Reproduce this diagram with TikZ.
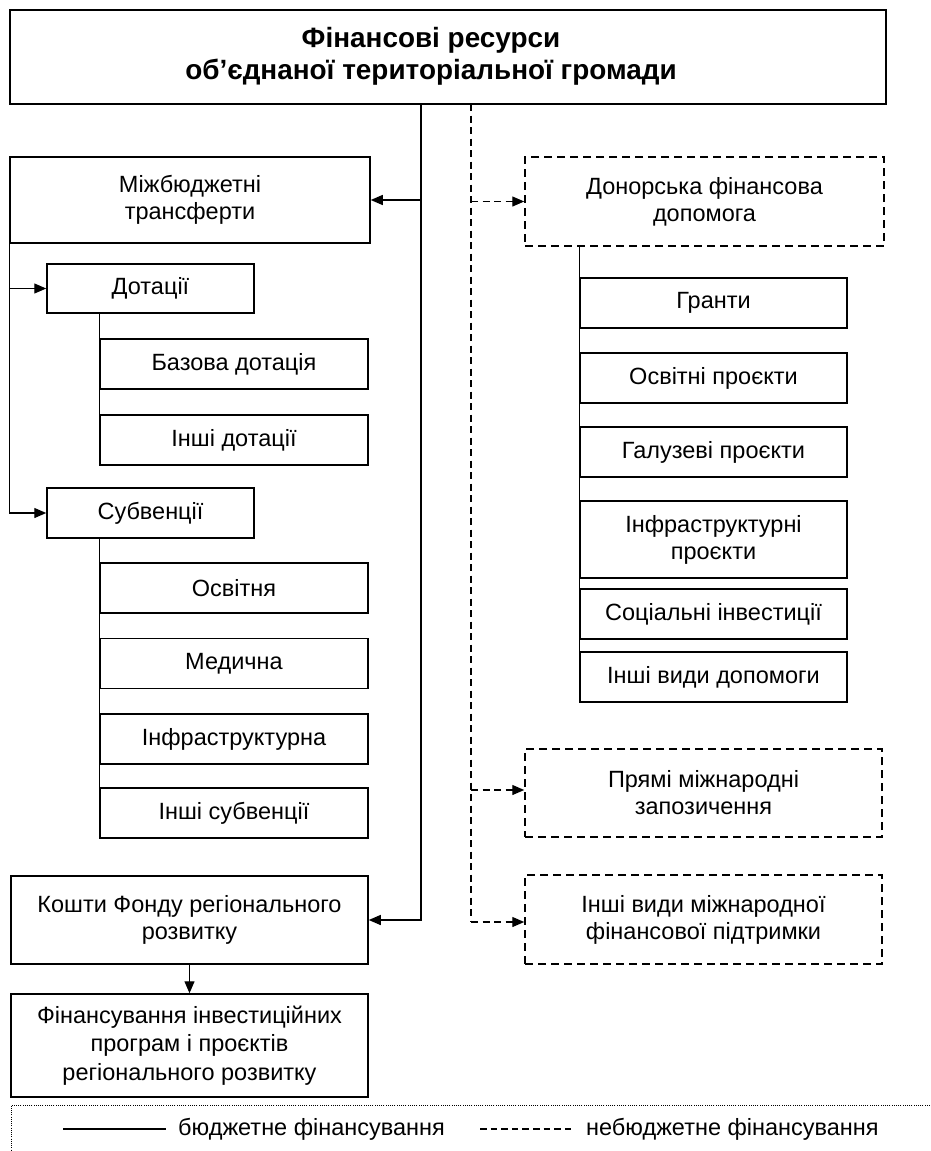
\documentclass[tikz,border=0pt]{standalone}
\usepackage{fontspec}
\setmainfont{Liberation Sans}
\usetikzlibrary{arrows.meta}
\begin{document}
\begin{tikzpicture}[x=1pt,y=-1pt,
  box/.style={draw=black, line width=1.5pt, rectangle, inner sep=0pt, align=center,
    font=\fontsize{23.5}{27}\selectfont},
  dbox/.style={box, dash pattern=on 8pt off 5pt},
  conn/.style={draw=black, line width=1.3pt},
  dconn/.style={conn, dash pattern=on 7pt off 4.5pt},
  tip/.style={-{Triangle[length=12pt,width=10pt]}},
  legline/.style={draw=black, line width=1.3pt},
  legtext/.style={inner sep=0pt, anchor=west, font=\fontsize{23.5}{27}\selectfont}
]
\useasboundingbox (0,0) rectangle (930,1151);
\fill[white] (0,0) rectangle (930,1151);

% title
\node[box, minimum width=876pt, minimum height=94pt] (top) at (448,57) {};
\node[inner sep=0pt, align=center, font=\fontsize{27.9}{32}\selectfont\bfseries]
  (toptext) at (431,56) {Фінансові ресурси\\об’єднаної територіальної громади};

% left column
\node[box, minimum width=360pt, minimum height=86pt] (mb) at (190,200) {Міжбюджетні\\трансферти};
\node[box, minimum width=207pt, minimum height=49pt] (dot) at (150.5,288.5) {Дотації};
\node[box, minimum width=268pt, minimum height=50pt] (baz) at (234,364) {Базова дотація};
\node[box, minimum width=268pt, minimum height=50pt] (ind) at (234,440) {Інші дотації};
\node[box, minimum width=207pt, minimum height=50pt] (sub) at (150.5,513) {Субвенції};
\node[box, minimum width=268pt, minimum height=50pt] (osv) at (234,588) {Освітня};
\node[box, minimum width=268pt, minimum height=50pt] (med) at (234,663.5) {Медична};
\node[box, minimum width=268pt, minimum height=50pt] (inf) at (234,739) {Інфраструктурна};
\node[box, minimum width=268pt, minimum height=50pt] (ins) at (234,813) {Інші субвенції};
\node[box, minimum width=357pt, minimum height=88pt] (kf) at (189.5,920) {Кошти Фонду регіонального\\розвитку};
\node[box, minimum width=357pt, minimum height=103pt, font=\fontsize{23.5}{28.5}\selectfont] (fin) at (189.5,1045.5)
  {Фінансування інвестиційних\\програм і проєктів\\регіонального розвитку};

% right column
\node[dbox, minimum width=359pt, minimum height=89pt] (don) at (704.5,201.5) {Донорська фінансова\\допомога};
\node[box, minimum width=267pt, minimum height=50pt] (gr) at (713.5,303) {Гранти};
\node[box, minimum width=267pt, minimum height=50pt] (op) at (713.5,378) {Освітні проєкти};
\node[box, minimum width=267pt, minimum height=50pt] (gp) at (713.5,452) {Галузеві проєкти};
\node[box, minimum width=267pt, minimum height=77pt] (ip) at (713.5,539.5) {Інфраструктурні\\проєкти};
\node[box, minimum width=267pt, minimum height=50pt] (si) at (713.5,614) {Соціальні інвестиції};
\node[box, minimum width=267pt, minimum height=50pt] (iv) at (713.5,677) {Інші види допомоги};
\node[dbox, minimum width=357pt, minimum height=88pt] (pm) at (703.5,793) {Прямі міжнародні\\запозичення};
\node[dbox, minimum width=357pt, minimum height=89pt] (imf) at (703.5,919.5) {Інші види міжнародної\\фінансової підтримки};

% budget connectors
\coordinate (s0) at (421,104);
\coordinate (s1) at (421,200);
\draw[conn, tip] (s0) |- (kf.east);
\draw[conn, tip] (s1) -- (mb.east);
\draw[conn, tip] (mb.south west) |- (sub.west);
\draw[conn, tip] (mb.south west |- dot.west) -- (dot.west);
\draw[conn] (ind.north west |- dot.south) -- (ind.north west);
\draw[conn] (ins.north west |- sub.south) -- (ins.north west);
\draw[conn, tip] (kf.south) -- (fin.north);

% non-budget connectors
\coordinate (d0) at (471,104);
\coordinate (d1) at (471,922);
\coordinate (d2) at (471,201.5);
\coordinate (d3) at (471,790);
\draw[dconn] (d0) -- (d1);
\draw[dconn, tip] (d1) -- (imf.west |- d1);
\draw[dconn, tip] (d2) -- (don.west);
\draw[dconn, tip] (d3) -- (pm.west |- d3);
\draw[conn] (iv.north west |- don.south) -- (iv.north west);

% legend
\draw[line width=0.8pt, dash pattern=on 1pt off 1.2pt] (930,1105) -- (11,1105) -- (11,1151);
\coordinate (la) at (63,1129);
\coordinate (lb) at (166,1129);
\draw[legline] (la) -- (lb);
\node[legtext] (lt1) at (178,1129) {бюджетне фінансування};
\coordinate (lc) at (480,1129);
\coordinate (ld) at (575,1129);
\draw[legline, line width=1.2pt, dash pattern=on 6.5pt off 4.1pt] (lc) -- (ld);
\node[legtext] (lt2) at (586,1129) {небюджетне фінансування};
\end{tikzpicture}
\end{document}
